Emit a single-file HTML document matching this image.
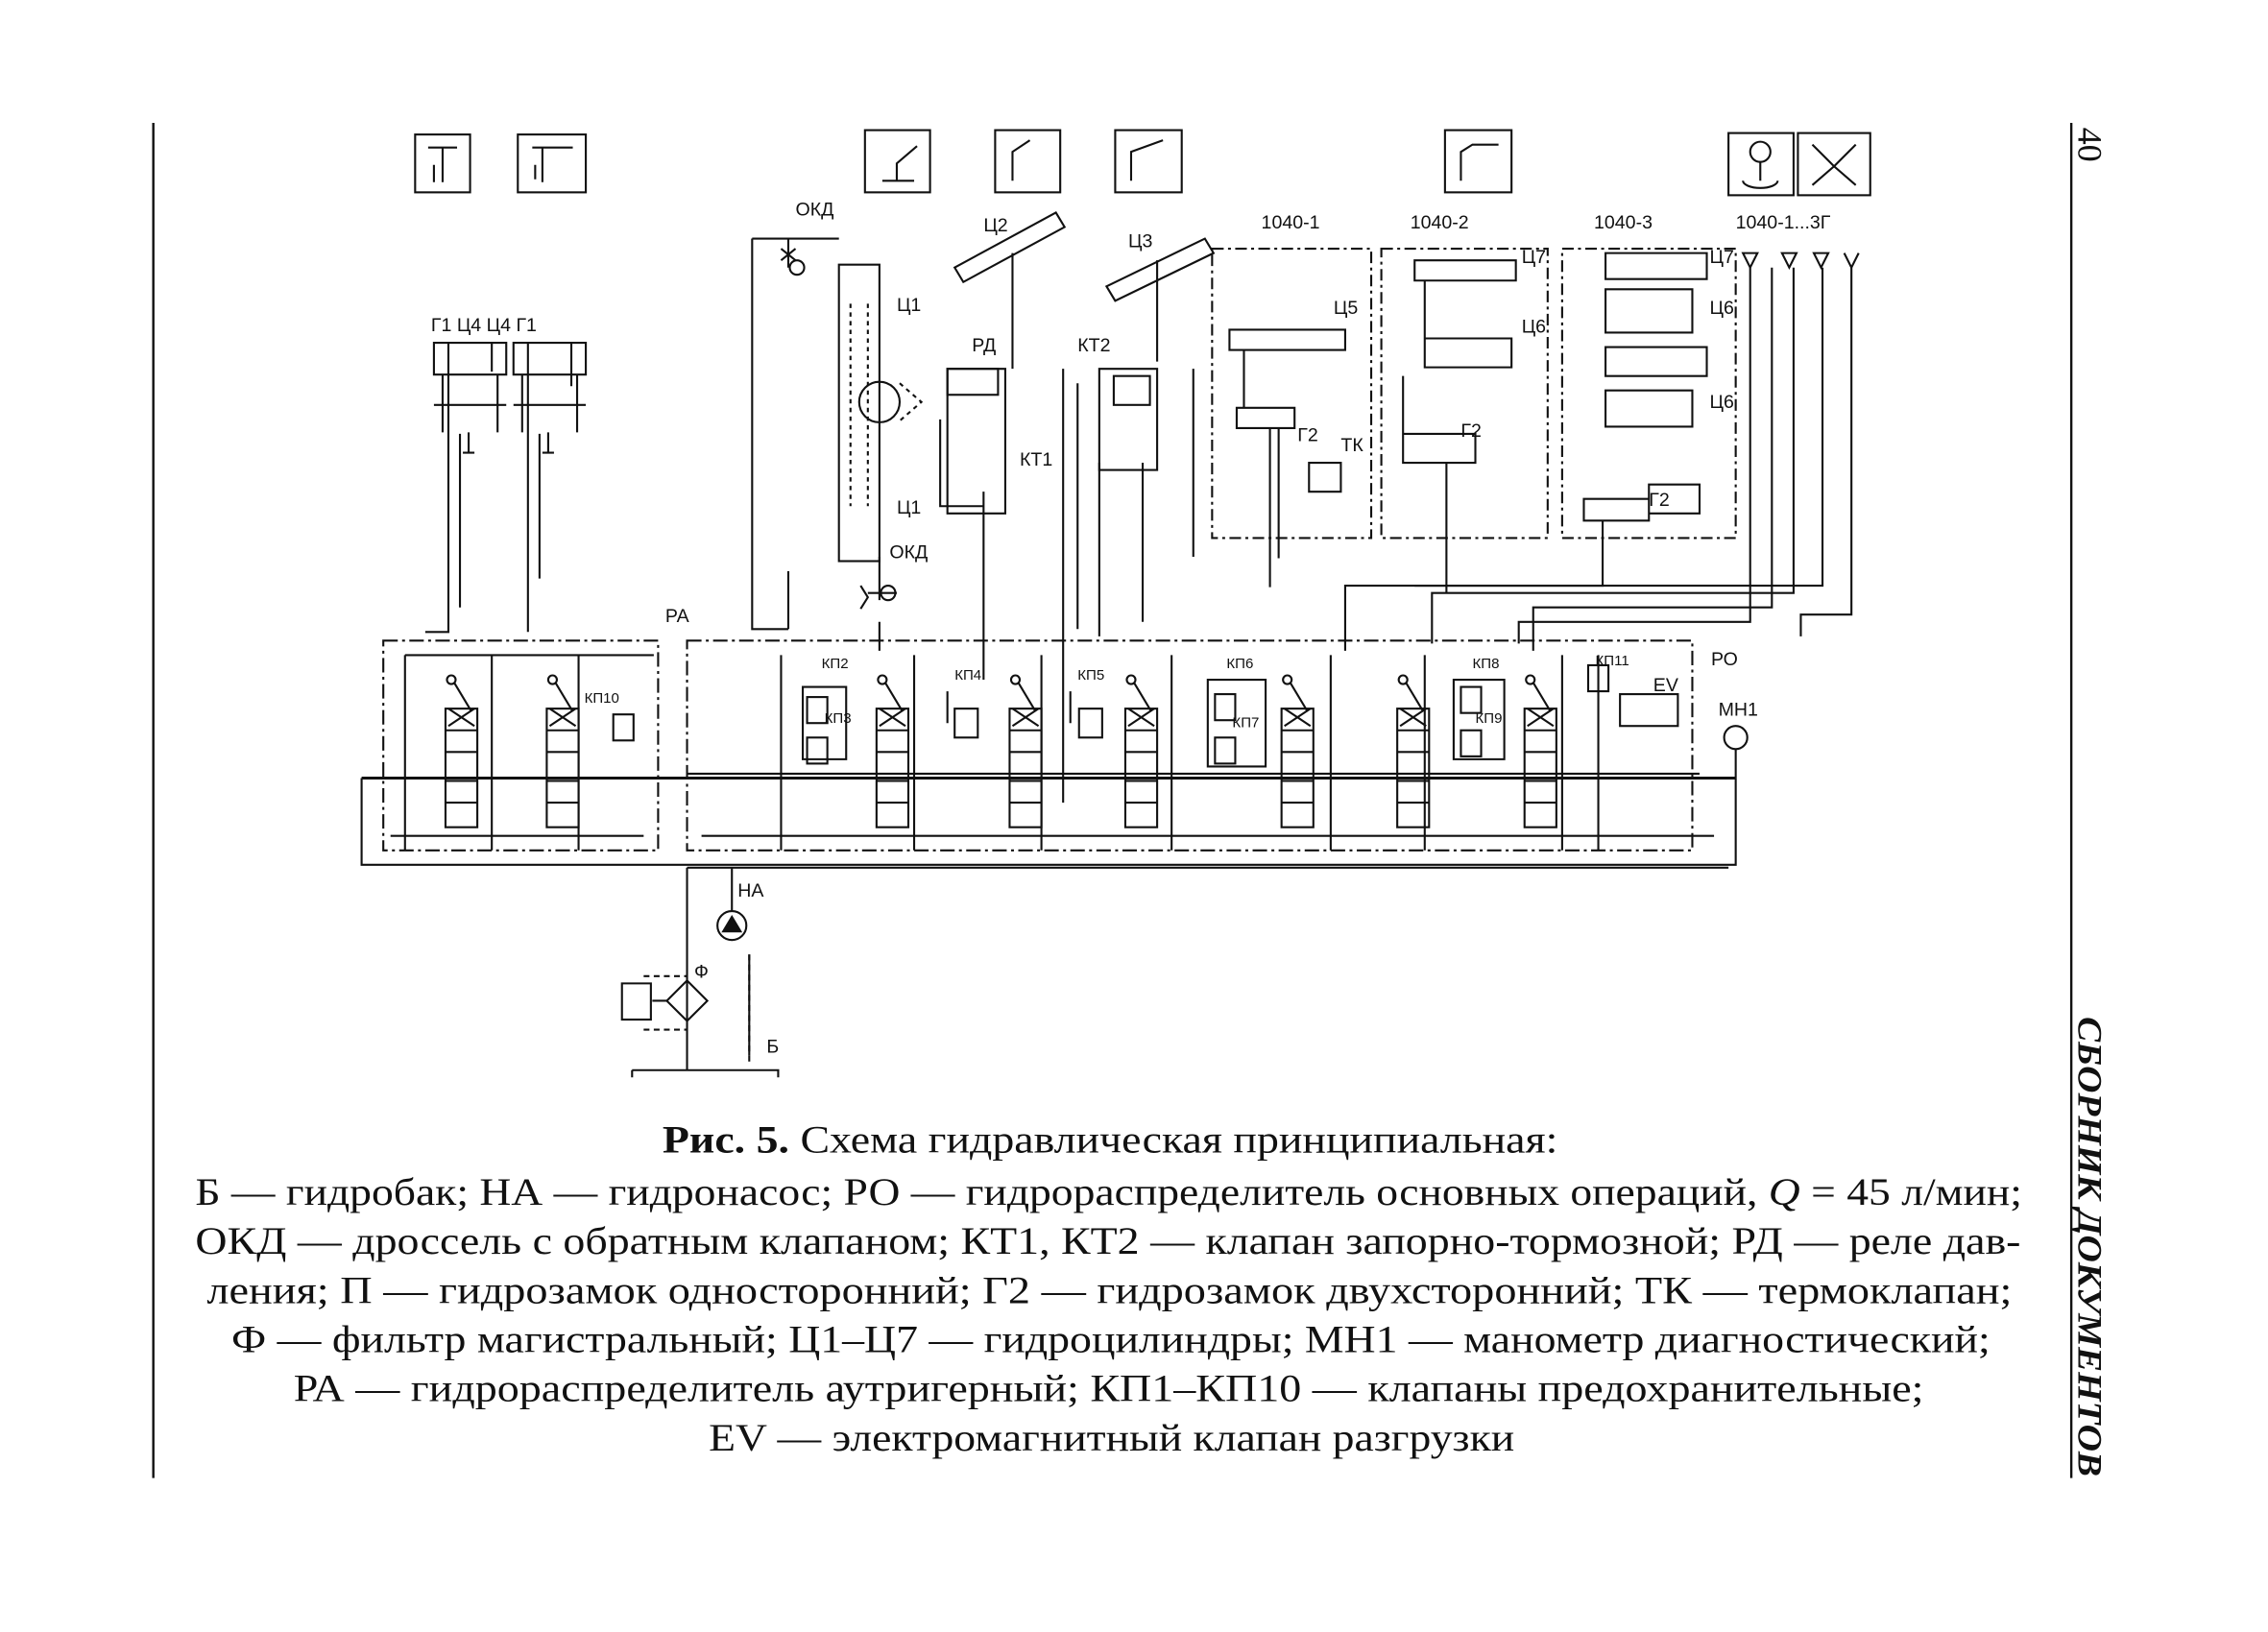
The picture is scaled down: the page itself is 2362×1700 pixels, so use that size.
<!DOCTYPE html>
<html><head><meta charset="utf-8"><style>
html,body{margin:0;padding:0;background:#fff;}
svg{display:block;}
text{font-family:"Liberation Sans","DejaVu Sans",sans-serif;fill:#111;}
.c text{font-family:"Liberation Serif","DejaVu Serif",serif;font-size:27px;}
</style></head><body>
<svg width="2362" height="1700" viewBox="0 0 1568 1128.5" preserveAspectRatio="none" xmlns="http://www.w3.org/2000/svg">
<g stroke="#111" stroke-width="1.4" fill="none">
<line x1="106" y1="85" x2="106" y2="1022" stroke-width="1.6"/>
<line x1="1432" y1="85" x2="1432" y2="1022" stroke-width="1.6"/>
<rect x="287" y="93" width="38" height="40"/><rect x="358" y="93" width="47" height="40"/>
<rect x="598" y="90" width="45" height="43"/><rect x="688" y="90" width="45" height="43"/>
<rect x="771" y="90" width="46" height="43"/><rect x="999" y="90" width="46" height="43"/>
<rect x="1195" y="92" width="45" height="43"/><rect x="1243" y="92" width="50" height="43"/>
<path d="M296 102h20M306 102v24M300 114v12M368 102h28M375 102v24M370 114v10"/>
<path d="M610 125h22M620 125v-12l14-12M700 125v-20l12-8M782 125v-20l22-8M1010 125v-20l8-5h18"/>
<circle cx="1217" cy="105" r="7"/><path d="M1205 125a12 5 0 0 0 24 0M1217 112v13"/>
<path d="M1253 100l15 15l15-15M1253 128l15-13l15 13"/>
<path d="M300 237h50v22h-50zM306 259v40M344 259v40M300 280h50M324 299v14M320 313h8M355 237h50v22h-50zM361 259v40M399 259v40M355 280h50M379 299v14M375 313h8"/>
<path d="M310 237v200h-16M340 237v20M318 300v120M365 237v200M395 237v30M373 300v100"/>
<rect x="580" y="183" width="28" height="205"/><circle cx="608" cy="278" r="14"/>
<path d="M622 265l15 13l-15 13M588 210v140M600 210v140" stroke-dasharray="3 3"/>
<path d="M520 165h60M520 165v270h25M545 165v20M608 385v30M545 395v40M600 410h20M608 430v20"/>
<path d="M540 180l10-8M540 172l10 8M595 405l5 8l-5 8"/>
<circle cx="614" cy="410" r="5"/><circle cx="551" cy="185" r="5"/>
<path d="M660 185l70-38l6 10l-70 38zM765 198l68-33l6 10l-68 33z"/>
<path d="M700 175v80M800 180v70M655 255h40v100h-40zM760 255h40v70h-40zM735 255v300M825 255v130"/>
<rect x="655" y="255" width="35" height="18"/><rect x="770" y="260" width="25" height="20"/>
<path d="M650 290v60h30v120M680 340v80M790 320v110M760 320v120M745 265v170"/>
<rect x="838" y="172" width="110" height="200" stroke-dasharray="8 3 2 3"/>
<rect x="955" y="172" width="115" height="200" stroke-dasharray="8 3 2 3"/>
<rect x="1080" y="172" width="120" height="200" stroke-dasharray="8 3 2 3"/>
<path d="M850 228h80v14h-80zM860 242v40M855 282h40v14h-40zM905 320h22v20h-22zM878 296v110M884 296v90"/>
<path d="M978 180h70v14h-70zM985 194v40h60v20h-60zM970 260v40h50v20h-50zM1000 320v90"/>
<path d="M1110 175h70v18h-70zM1110 200h60v30h-60zM1110 240h70v20h-70zM1110 270h60v25h-60zM1095 345h45v15h-45zM1140 335h35v20h-35zM1108 360v45h-130"/>
<path d="M1210 185v245h-160v15M1225 185v235h-165v30M1240 185v225h-250v35M1260 185v220h-330v45M1280 185v240h-35v15"/>
<path d="M1205 175l5 10l5-10zM1232 175l5 10l5-10zM1254 175l5 10l5-10zM1275 175l5 10l5-10"/>
<rect x="265" y="443" width="190" height="145" stroke-dasharray="10 3 2 3"/>
<path d="M280 453h172M280 453v135M340 453v135M400 453v135"/>
<rect x="475" y="443" width="695" height="145" stroke-dasharray="10 3 2 3"/>
<path d="M540 453v135M632 453v135M720 453v135M810 453v135M920 453v135M985 453v135M1080 453v135M1105 453v135"/>
<line x1="250" y1="538" x2="1200" y2="538" stroke-width="2"/>
<path d="M250 538v60h950v-60M270 578h175M485 578h700"/>
<path d="M475 535h700M475 600h720"/>
<g id="sp">
<rect x="308" y="490" width="22" height="82"/><path d="M308 505h22M308 520h22M308 540h22M308 555h22M310 490l18 12M328 490l-18 12"/>
<circle cx="312" cy="470" r="3"/><path d="M314 472l12 20"/></g>
<use href="#sp" x="70"/><use href="#sp" x="298"/><use href="#sp" x="390"/><use href="#sp" x="470"/><use href="#sp" x="578"/><use href="#sp" x="658"/><use href="#sp" x="746"/>
<rect x="424" y="494" width="14" height="18"/><rect x="558" y="482" width="14" height="18"/><rect x="558" y="510" width="14" height="18"/>
<rect x="660" y="490" width="16" height="20"/><rect x="746" y="490" width="16" height="20"/>
<rect x="840" y="480" width="14" height="18"/><rect x="840" y="510" width="14" height="18"/>
<rect x="1010" y="475" width="14" height="18"/><rect x="1010" y="505" width="14" height="18"/>
<rect x="1098" y="460" width="14" height="18"/><rect x="1120" y="480" width="40" height="22"/>
<circle cx="1200" cy="510" r="8"/><path d="M1200 518v20"/>
<path d="M555 475h30v50h-30zM655 478v22M740 478v22M835 470h40v60h-40zM1005 470h35v55h-35z"/>
<path d="M475 600v140M475 740h-38M437 740v5M475 740h63v5M506 600v30M518 660v70"/>
<circle cx="506" cy="640" r="10"/><path d="M500 644l6-10l6 10z" fill="#111"/>
<path d="M475 678l14 14l-14 14l-14-14zM461 692h-10M430 680h20v25h-20z"/>
<path d="M445 675h30M445 712h30M518 660v75" stroke-dasharray="4 3"/>
</g>
<g font-size="13">
<text x="298" y="229">Г1 Ц4 Ц4 Г1</text><text x="550" y="149">ОКД</text><text x="620" y="215">Ц1</text>
<text x="680" y="160">Ц2</text><text x="780" y="171">Ц3</text><text x="672" y="243">РД</text><text x="745" y="243">КТ2</text>
<text x="705" y="322">КТ1</text><text x="620" y="355">Ц1</text><text x="615" y="386">ОКД</text>
<text x="872" y="158">1040-1</text><text x="975" y="158">1040-2</text><text x="1102" y="158">1040-3</text><text x="1200" y="158">1040-1...3Г</text>
<text x="922" y="217">Ц5</text><text x="897" y="305">Г2</text><text x="927" y="312">ТК</text>
<text x="1052" y="182">Ц7</text><text x="1052" y="230">Ц6</text><text x="1010" y="302">Г2</text>
<text x="1182" y="182">Ц7</text><text x="1182" y="217">Ц6</text><text x="1182" y="282">Ц6</text><text x="1140" y="350">Г2</text>
<text x="460" y="430">РА</text><text x="1183" y="460">РО</text><text x="1188" y="495">МН1</text><text x="1143" y="478">EV</text>
<text x="510" y="620">НА</text><text x="480" y="676">Ф</text><text x="530" y="728">Б</text>
<text x="404" y="486" font-size="10">КП10</text><text x="568" y="462" font-size="10">КП2</text><text x="570" y="500" font-size="10">КП3</text>
<text x="660" y="470" font-size="10">КП4</text><text x="745" y="470" font-size="10">КП5</text><text x="848" y="462" font-size="10">КП6</text>
<text x="852" y="503" font-size="10">КП7</text><text x="1018" y="462" font-size="10">КП8</text><text x="1020" y="500" font-size="10">КП9</text><text x="1103" y="460" font-size="10">КП11</text>
</g>
<g class="c">
<text x="458" y="797" textLength="619" lengthAdjust="spacingAndGlyphs"><tspan font-weight="bold">Рис. 5.</tspan> Схема гидравлическая принципиальная:</text>
<text x="135" y="833" textLength="1263" lengthAdjust="spacingAndGlyphs">Б — гидробак; НА — гидронасос; РО — гидрораспределитель основных операций, <tspan font-style="italic">Q</tspan> = 45 л/мин;</text>
<text x="135" y="867" textLength="1262" lengthAdjust="spacingAndGlyphs">ОКД — дроссель с обратным клапаном; КТ1, КТ2 — клапан запорно-тормозной; РД — реле дав-</text>
<text x="143" y="901" textLength="1248" lengthAdjust="spacingAndGlyphs">ления; П — гидрозамок односторонний; Г2 — гидрозамок двухсторонний; ТК — термоклапан;</text>
<text x="160" y="935" textLength="1216" lengthAdjust="spacingAndGlyphs">Ф — фильтр магистральный; Ц1–Ц7 — гидроцилиндры; МН1 — манометр диагностический;</text>
<text x="203" y="969" textLength="1127" lengthAdjust="spacingAndGlyphs">РА — гидрораспределитель аутригерный; КП1–КП10 — клапаны предохранительные;</text>
<text x="490" y="1003" textLength="557" lengthAdjust="spacingAndGlyphs">EV — электромагнитный клапан разгрузки</text>
</g>
<text transform="translate(1437,88) rotate(90)" font-family="Liberation Serif,serif" font-size="24" style="font-family:'Liberation Serif',serif">40</text>
<text transform="translate(1437,703) rotate(90)" font-size="24" font-weight="bold" font-style="italic" style="font-family:'Liberation Serif',serif" textLength="318" lengthAdjust="spacingAndGlyphs">СБОРНИК ДОКУМЕНТОВ</text>
</svg>
</body></html>
